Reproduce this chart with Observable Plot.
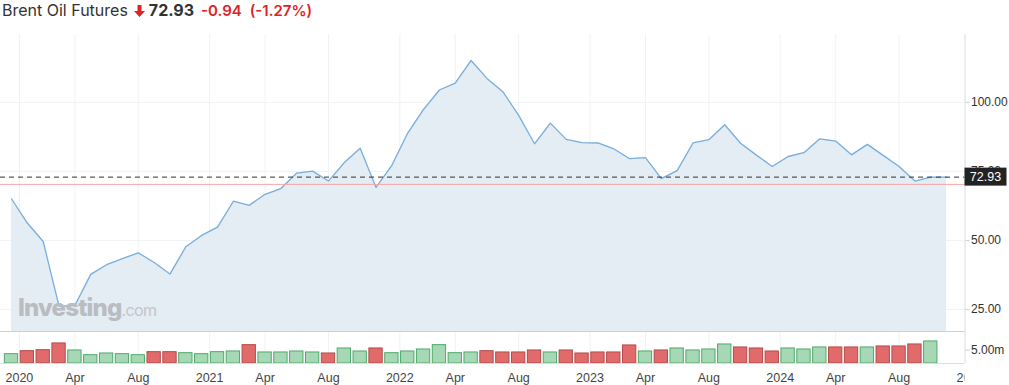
<!DOCTYPE html>
<html>
<head>
<meta charset="utf-8">
<script src="https://cdn.jsdelivr.net/npm/d3@7"></script>
<script src="https://cdn.jsdelivr.net/npm/@observablehq/plot@0.6"></script>
<style>
  html, body { margin: 0; padding: 0; background: #fff; }
  #wrap { position: relative; width: 1009px; height: 385px; overflow: hidden; font-family: Inter, "Liberation Sans", Arial, sans-serif; }
  #hdr { position: absolute; left: 2px; top: 0; height: 20px; line-height: 20px; white-space: nowrap; display: flex; align-items: baseline; }
  #hdr .name { font-size: 16px; color: #333; }
  #hdr .arrow { display: inline-block; width: 11px; height: 12px; margin-left: 6px; position: relative; top: 1px; }
  #hdr .last { font-size: 16px; font-weight: 700; color: #333; margin-left: 4px; }
  #hdr .chg { font-size: 15px; font-weight: 600; color: #dd2424; margin-left: 7px; }
  #hdr .pct { font-size: 15px; font-weight: 600; color: #dd2424; margin-left: 8px; }
  #price { position: absolute; left: 0; top: 34px; }
  #vol { position: absolute; left: 0; top: 331px; }
  #xax { position: absolute; left: 0; top: 363px; }
  #wm { position: absolute; left: 18px; top: 293px; white-space: nowrap; color: #b9bcc0; pointer-events: none; }
  #wm .b { font-family: Inter, Roboto, sans-serif; font-weight: 800; font-size: 24px; letter-spacing: -0.8px; }
  #wm .c { font-family: Inter, Roboto, sans-serif; font-weight: 400; font-size: 16px; letter-spacing: -0.6px; color: #c3c5c8; }
</style>
</head>
<body>
<div id="wrap">
  <div id="hdr">
    <span class="name">Brent Oil Futures</span>
    <svg class="arrow" viewBox="0 0 11 12"><path d="M3.5 0 H7.5 V6 H11 L5.5 12 L0 6 H3.5 Z" fill="#dd2424"/></svg>
    <span class="last">72.93</span>
    <span class="chg">-0.94</span>
    <span class="pct">(-1.27%)</span>
  </div>
  <div id="price"></div>
  <div id="vol"></div>
  <div id="xax"></div>
  <div id="wm"><span class="b">Investing</span><span class="c">.com</span></div>
</div>
<script>
// ---- data (monthly, Dec 2019 .. Nov 2024) ----
const months = [
  "2019-12","2020-01","2020-02","2020-03","2020-04","2020-05","2020-06","2020-07","2020-08","2020-09",
  "2020-10","2020-11","2020-12","2021-01","2021-02","2021-03","2021-04","2021-05","2021-06","2021-07",
  "2021-08","2021-09","2021-10","2021-11","2021-12","2022-01","2022-02","2022-03","2022-04","2022-05",
  "2022-06","2022-07","2022-08","2022-09","2022-10","2022-11","2022-12","2023-01","2023-02","2023-03",
  "2023-04","2023-05","2023-06","2023-07","2023-08","2023-09","2023-10","2023-11","2023-12","2024-01",
  "2024-02","2024-03","2024-04","2024-05","2024-06","2024-07","2024-08","2024-09","2024-10","2024-11"
];
const closes = [
  65.1, 56.3, 49.6, 26.2, 26.4, 37.7, 41.2, 43.4, 45.5, 42.0,
  37.8, 47.7, 51.8, 54.8, 64.2, 62.7, 66.7, 68.8, 74.4, 75.1,
  71.5, 78.2, 83.4, 69.2, 77.2, 88.9, 97.5, 104.5, 107.0, 115.2,
  108.7, 103.9, 95.3, 85.0, 92.5, 86.6, 85.4, 85.3, 83.2, 79.6,
  80.0, 72.4, 75.3, 85.3, 86.5, 91.9, 85.2, 80.9, 76.8, 80.4,
  81.8, 86.8, 86.0, 81.0, 84.8, 80.8, 76.8, 71.5, 72.9, 72.93
];
// volume in millions (first 59 months have a bar)
const volumes = [
  3.5, 4.62, 5.0, 7.52, 4.89, 3.12, 3.76, 3.5, 3.12, 4.25,
  4.25, 3.87, 3.5, 4.25, 4.51, 6.88, 4.14, 4.14, 4.51, 4.14,
  3.76, 5.64, 4.51, 5.64, 3.87, 4.51, 5.26, 6.88, 3.87, 4.14,
  4.62, 4.14, 4.14, 4.89, 4.14, 4.89, 3.76, 4.14, 4.14, 6.77,
  4.51, 4.89, 5.64, 4.89, 5.26, 7.14, 6.02, 5.64, 4.51, 5.64,
  5.26, 6.02, 6.02, 6.02, 6.02, 6.39, 6.39, 7.14, 8.27
];
const volumeUp = [
  1,0,0,0,1,1,1,1,1,0,
  0,1,1,1,1,0,1,1,1,1,
  0,1,1,0,1,1,1,1,1,1,
  0,0,0,0,1,0,0,0,0,0,
  1,0,1,1,1,1,0,0,0,1,
  1,1,0,0,1,0,0,0,1
];
// x tick positions (in month-index units) and their labels
const tickPos =    [0.5, 4, 8, 12.5, 16, 20, 24.5, 28, 32, 36.5, 40, 44, 48.5, 52, 56, 60.5];
const tickLabels = ["2020","Apr","Aug","2021","Apr","Aug","2022","Apr","Aug","2023","Apr","Aug","2024","Apr","Aug","2025"];
const priceTicks = [25, 50, 75, 100];
const volumeTicks = [5];
const lastPrice = 72.93;
const refLine = 70.3;

// ---- tables built from the arrays ----
const priceData = closes.map((c, i) => ({i, month: months[i], close: c}));
const volData = volumes.map((v, i) => ({i, month: months[i], v, up: volumeUp[i] === 1}));
const ticks = tickPos.map((p, k) => ({p, label: tickLabels[k]}));

const W = 1009, MR = 44.5;
const xDomain = [-0.694, 60.16];
const style = {fontFamily: "'Liberation Sans', Arial, sans-serif", fontSize: "12px", color: "#333", background: "transparent", overflow: "visible"};

const price = Plot.plot({
  width: W, height: 297,
  marginLeft: 0, marginRight: MR, marginTop: 0, marginBottom: 0,
  style,
  x: {type: "linear", domain: xDomain, axis: null},
  y: {domain: [17.0, 124.6], axis: null},
  marks: [
    Plot.gridX(tickPos, {stroke: "#f1f2f4", strokeOpacity: 1, clip: true}),
    Plot.gridY(priceTicks, {stroke: "#f1f2f4", strokeOpacity: 1}),
    Plot.areaY(priceData, {x: "i", y: "close", fill: "#e4ecf4", clip: true}),
    Plot.lineY(priceData, {x: "i", y: "close", stroke: "#78aedb", strokeWidth: 1.3}),
    Plot.ruleY([refLine], {stroke: "#f6a5a5", strokeWidth: 1}),
    Plot.ruleY([lastPrice], {stroke: "#333", strokeWidth: 1, strokeDasharray: "5,4"}),
    Plot.ruleX([xDomain[1]], {stroke: "#dcdcdc"}),
    Plot.axisY({anchor: "right", label: null, ticks: priceTicks, tickFormat: d => d.toFixed(2), tickSize: 4, tickPadding: 2, stroke: "#cfcfcf", fill: "#333", fontSize: 12})
  ]
});
document.getElementById("price").appendChild(price);

// last-price tag placed through the plot's own y scale
{
  const yy = price.scale("y").apply(lastPrice);
  const x0 = price.scale("x").apply(xDomain[1]);
  const svg = d3.select(price);
  svg.append("rect").attr("x", x0).attr("y", yy - 9).attr("width", 42).attr("height", 18).attr("fill", "#222");
  svg.append("text").attr("x", x0 + 21).attr("y", yy + 4.5).attr("text-anchor", "middle")
    .attr("fill", "#fff").attr("font-size", 12.5).attr("font-family", "'Liberation Sans', Arial, sans-serif")
    .text(lastPrice.toFixed(2));
}

const vol = Plot.plot({
  width: W, height: 32,
  marginLeft: 0, marginRight: MR, marginTop: 0, marginBottom: 0,
  style,
  x: {type: "linear", domain: xDomain, axis: null},
  y: {domain: [0, 12.0], axis: null},
  marks: [
    Plot.gridX(tickPos, {stroke: "#f1f2f4", strokeOpacity: 1, clip: true}),
    Plot.rectY(volData, {
      x1: d => d.i - 0.42, x2: d => d.i + 0.42, y: "v",
      fill: d => d.up ? "#a7d8b5" : "#e16b6b",
      stroke: d => d.up ? "#4ea96a" : "#b54a4a", strokeWidth: 1
    }),
    Plot.ruleY([12.0], {stroke: "#cfcfcf"}),
    Plot.ruleY([0], {stroke: "#dedede"}),
    Plot.ruleX([xDomain[1]], {stroke: "#dcdcdc"}),
    Plot.axisY({anchor: "right", label: null, ticks: volumeTicks, tickFormat: d => d.toFixed(2) + "m", tickSize: 4, tickPadding: 2, stroke: "#cfcfcf", fill: "#333", fontSize: 12})
  ]
});
document.getElementById("vol").appendChild(vol);

const xax = Plot.plot({
  width: W, height: 22,
  marginLeft: 0, marginRight: MR, marginTop: 0, marginBottom: 0,
  style,
  x: {type: "linear", domain: xDomain, axis: null},
  marks: [
    Plot.text(ticks, {x: "p", text: "label", frameAnchor: "middle", dy: 3, fill: "#444", fontSize: 12.5, clip: true})
  ]
});
document.getElementById("xax").appendChild(xax);
</script>
</body>
</html>
